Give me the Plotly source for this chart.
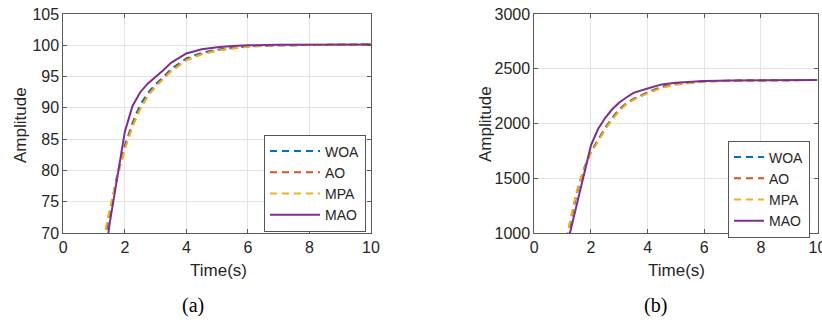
import plotly.graph_objects as go

# ---------------- data ----------------
time = [0, 1.0, 1.25, 1.5, 1.75, 2.0, 2.25, 2.5, 2.75, 3.0, 3.25, 3.5,
        4.0, 4.5, 5.0, 5.5, 6.0, 7.0, 8.0, 9.0, 10.0]

# panel (a)
woa_a = [0, 60, 66.5, 73.0, 79.2, 84.0, 87.6, 90.5, 92.4, 93.8, 94.9, 96.2,
         97.9, 98.8, 99.3, 99.6, 99.85, 100.0, 100.08, 100.1, 100.12]
ao_a = [0, 61, 67.2, 73.4, 79.0, 83.6, 87.2, 90.0, 92.0, 93.5, 94.7, 95.9,
        97.7, 98.65, 99.2, 99.55, 99.8, 100.0, 100.08, 100.1, 100.12]
mpa_a = [0, 61.5, 67.6, 73.6, 78.9, 83.4, 87.0, 89.8, 91.9, 93.4, 94.6, 95.8,
         97.6, 98.55, 99.15, 99.5, 99.8, 99.98, 100.06, 100.1, 100.12]
mao_a = [0, 53, 62, 71.3, 79.0, 86.2, 90.3, 92.5, 93.9, 94.9, 96.0, 97.2,
         98.7, 99.35, 99.7, 99.88, 100.0, 100.08, 100.1, 100.12, 100.13]

# panel (b)
woa_b = [0, 760, 1060, 1360, 1580, 1745, 1850, 1960, 2050, 2130, 2186, 2225,
         2285, 2335, 2362, 2376, 2385, 2391, 2395, 2397, 2398]
ao_b = [0, 780, 1080, 1375, 1585, 1740, 1840, 1950, 2040, 2120, 2180, 2220,
        2280, 2330, 2358, 2374, 2384, 2391, 2395, 2397, 2398]
mpa_b = [0, 790, 1090, 1380, 1580, 1730, 1835, 1945, 2035, 2115, 2175, 2215,
         2275, 2325, 2355, 2372, 2383, 2390, 2394, 2397, 2398]
mao_b = [0, 720, 990, 1260, 1530, 1800, 1950, 2050, 2130, 2192, 2237, 2280,
         2320, 2357, 2373, 2381, 2387, 2392, 2395, 2397, 2398]

names = ["WOA", "AO", "MPA", "MAO"]
colors = ["#0072BD", "#D95319", "#EDB120", "#7E2F8E"]
dashes = ["7px,5px", "7px,5px", "7px,5px", "solid"]

x_ticks = [0, 2, 4, 6, 8, 10]
y_ticks_a = [70, 75, 80, 85, 90, 95, 100, 105]
y_ticks_b = [1000, 1500, 2000, 2500, 3000]

FONT = "Liberation Sans, Arial, sans-serif"

fig = go.Figure()

series_a = [woa_a, ao_a, mpa_a, mao_a]
series_b = [woa_b, ao_b, mpa_b, mao_b]

for n, c, d, ys in zip(names, colors, dashes, series_a):
    fig.add_trace(go.Scatter(x=time, y=ys, mode="lines", name=n,
                             line=dict(color=c, width=2, dash=d),
                             xaxis="x", yaxis="y", legend="legend"))
for n, c, d, ys in zip(names, colors, dashes, series_b):
    fig.add_trace(go.Scatter(x=time, y=ys, mode="lines", name=n,
                             line=dict(color=c, width=2, dash=d),
                             xaxis="x2", yaxis="y2", legend="legend2"))

axis_common = dict(showline=True, linecolor="#5a5a5a", linewidth=1,
                   mirror="allticks", ticks="inside", ticklen=4,
                   tickcolor="#5a5a5a", showgrid=True, gridcolor="#e3e3e3",
                   gridwidth=1, zeroline=False, automargin=False,
                   ticklabeloverflow="allow",
                   tickfont=dict(family=FONT, size=16, color="#262626"))

yb = (323 - 233) / 323
yt = (323 - 14) / 323

fig.update_layout(
    width=822, height=323,
    margin=dict(l=0, r=0, t=0, b=0, autoexpand=False),
    paper_bgcolor="white", plot_bgcolor="white",
    xaxis=dict(domain=[63.3 / 822, 371 / 822], range=[0, 10],
               tickvals=x_ticks, anchor="y", **axis_common),
    yaxis=dict(domain=[yb, yt], range=[70, 105], tickvals=y_ticks_a,
               anchor="x", **axis_common),
    xaxis2=dict(domain=[534.3 / 822, 817.5 / 822], range=[0, 10],
                tickvals=x_ticks, anchor="y2", **axis_common),
    yaxis2=dict(domain=[yb, yt], range=[1000, 3000], tickvals=y_ticks_b,
                anchor="x2", **axis_common),
    legend=dict(x=366 / 822, xanchor="right", y=(323 - 183) / 323,
                yanchor="middle", bgcolor="white", bordercolor="#555",
                borderwidth=1, itemwidth=50,
                font=dict(family=FONT, size=14, color="#262626"),
                tracegroupgap=0),
    legend2=dict(x=810 / 822, xanchor="right", y=(323 - 189) / 323,
                 yanchor="middle", bgcolor="white", bordercolor="#555",
                 borderwidth=1, itemwidth=30,
                 font=dict(family=FONT, size=14, color="#262626"),
                 tracegroupgap=0),
    showlegend=True,
)

ann_font = dict(family=FONT, size=17, color="#262626")
serif = dict(family="Liberation Serif, Times New Roman, serif", size=20,
             color="black")
labels = [
    ("Amplitude", 20, 125, -90, ann_font),
    ("Amplitude", 485, 124, -90, ann_font),
    ("Time(s)", 218, 270.5, 0, ann_font),
    ("Time(s)", 676, 270.5, 0, ann_font),
    ("(a)", 193, 305, 0, serif),
    ("(b)", 655, 305, 0, serif),
]
for txt, px, py, ang, f in labels:
    fig.add_annotation(text=txt, x=px / 822, y=(323 - py) / 323,
                       xref="paper", yref="paper", showarrow=False,
                       textangle=ang, xanchor="center", yanchor="middle",
                       font=f)

fig.write_html("out.html")
